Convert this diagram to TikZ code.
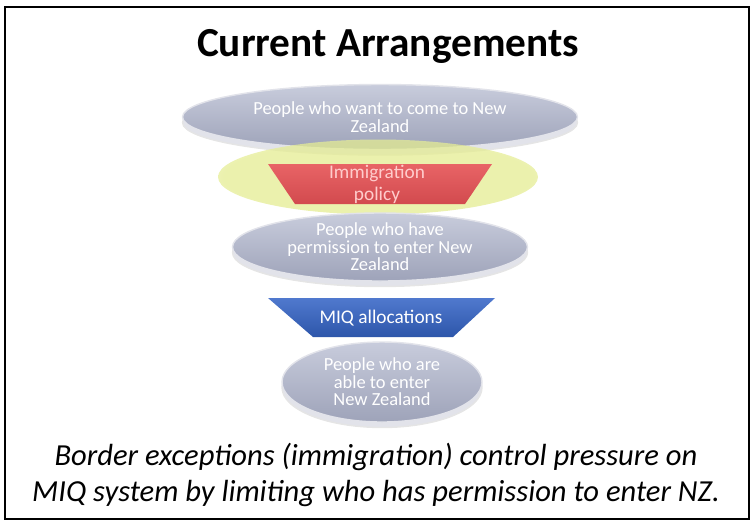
\documentclass[tikz,border=0pt]{standalone}
\usepackage{fontspec}
\setmainfont{Carlito}
\usetikzlibrary{positioning, shapes.geometric}
\definecolor{plateTop}{HTML}{C8CCDC}
\definecolor{plateBot}{HTML}{9EA3B9}
\definecolor{rim}{HTML}{E2E3EA}
\definecolor{polRed}{HTML}{E86466}
\definecolor{polRedDark}{HTML}{D24A4E}
\definecolor{miqBlue}{HTML}{5079CE}
\definecolor{miqBlueDark}{HTML}{2D56AA}
\definecolor{glow}{HTML}{E4EC92}
\pgfdeclareradialshading{halo}{\pgfpoint{0bp}{0bp}}{color(0bp)=(glow); color(24bp)=(glow); color(50bp)=(white)}

\begin{document}
\begin{tikzpicture}[x=0.02cm, y=-0.02cm,
		plate/.style = {shape=ellipse, inner sep=0pt, align=center, text=white, font=\fontsize{10.5}{9.9}\selectfont,
			top color=plateTop, bottom color=plateBot, draw=rim, line width=0.8pt,
			preaction={fill=rim, draw=gray!20, transform canvas={yshift=-0.11cm}}},
		filter/.style = {inner sep=0pt, align=center, font=\fontsize{11}{12.5}\selectfont},
		caption/.style = {align=center, font=\fontsize{17.4}{20.4}\selectfont\itshape},
	]
	\useasboundingbox (0,0) rectangle (753,525);
	\node[draw, line width=1pt, minimum width=14.88cm, minimum height=10.24cm, inner sep=0pt] (frame) at (377,263) {};

	\node[font=\fontsize{23.5}{28}\selectfont\bfseries] (title) at (388,46) {Current Arrangements};

	\node[plate, minimum width=7.9cm, minimum height=1.3cm] (want) at (380,117) {People who want to come to New\\Zealand};

	% glow behind the immigration filter
	\node[shape=ellipse, minimum width=6.4cm, minimum height=1.5cm, shading=halo, opacity=0.75] (halo) at (378,177) {};

	% the two filters
	\shade[top color=polRed, bottom color=polRedDark] (268,164) -- (492,164) -- (465,204) -- (295,204) -- cycle;
	\node[filter, text=red!20] (policy) at (377,184) {Immigration\\policy};

	\node[plate, minimum width=5.9cm, minimum height=1.36cm] (permit) at (380,247) {People who have\\permission to enter New\\Zealand};

	\shade[top color=miqBlue, bottom color=miqBlueDark] (268,298) -- (495,298) -- (453,337) -- (313,337) -- cycle;
	\node[filter, text=white] (miq) at (381,318) {MIQ allocations};

	\node[plate, minimum width=4cm, minimum height=1.6cm] (able) at (382,382) {People who are\\able to enter\\New Zealand};

	\node[caption] (note) at (376,475) {Border exceptions (immigration) control pressure on\\MIQ system by limiting who has permission to enter NZ.};
\end{tikzpicture}
\end{document}
